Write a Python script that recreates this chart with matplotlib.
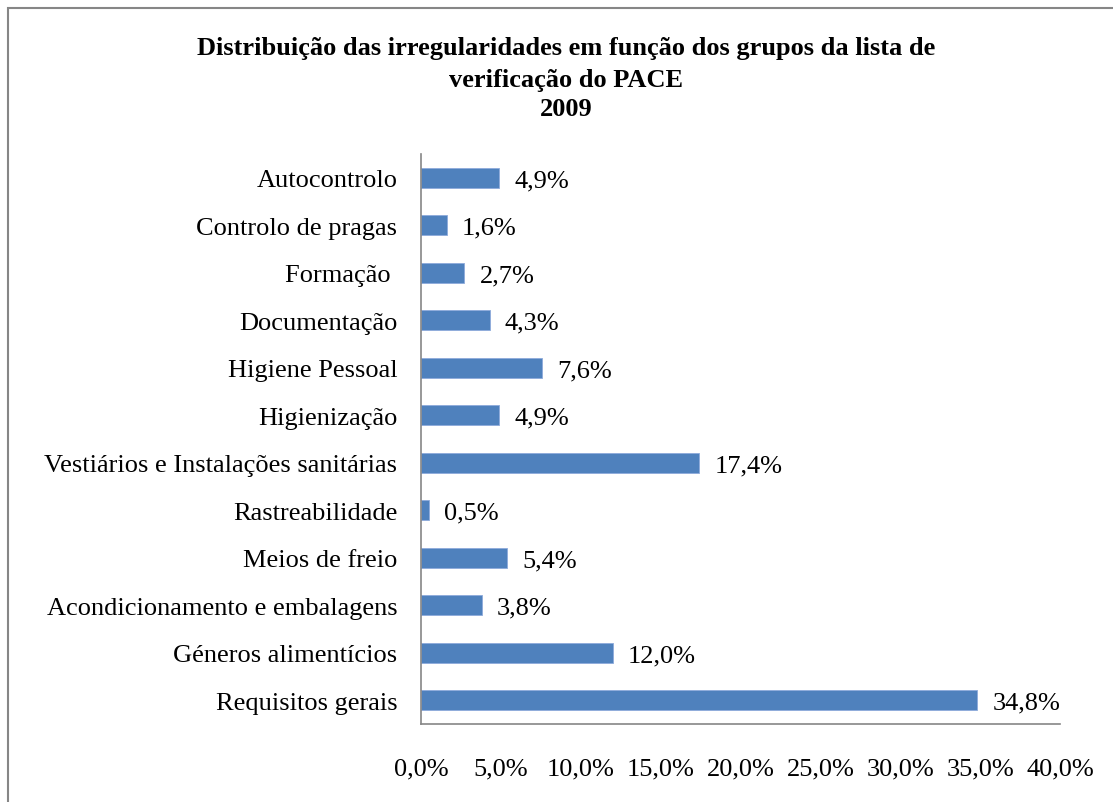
import matplotlib.pyplot as plt
from matplotlib.patches import Rectangle
from matplotlib.ticker import FuncFormatter

plt.rcParams['font.family'] = ['Liberation Serif', 'DejaVu Serif']

# categories listed bottom to top
categories = ['Requisitos gerais', 'Géneros alimentícios', 'Acondicionamento e embalagens',
              'Meios de freio', 'Rastreabilidade', 'Vestiários e Instalações sanitárias',
              'Higienização', 'Higiene Pessoal', 'Documentação', 'Formação ',
              'Controlo de pragas', 'Autocontrolo']
values = [34.8, 12.0, 3.8, 5.4, 0.5, 17.4, 4.9, 7.6, 4.3, 2.7, 1.6, 4.9]
xticks = [0, 5, 10, 15, 20, 25, 30, 35, 40]

W, H = 1113, 803
FS = 19
fig = plt.figure(figsize=(W / 100, H / 100), dpi=100)
ax = fig.add_axes([421 / W, 1 - 725 / H, (1060 - 421) / W, (725 - 155) / H])

pos = range(len(categories))
ax.barh(pos, values, height=0.42, color='#4F81BD', edgecolor='#8EAADB', linewidth=0.6)
ax.set_yticks(list(pos))
ax.set_yticklabels(categories, fontsize=FS)
ax.set_ylim(-0.5, len(categories) - 0.5)
ax.set_xlim(0, 40)
ax.set_xticks(xticks)
ax.xaxis.set_major_formatter(FuncFormatter(lambda v, p: f'{v:.1f}%'.replace('.', ',')))
ax.tick_params(axis='x', length=0, labelsize=FS, pad=24)
ax.tick_params(axis='y', length=0, pad=17)

for s in ['top', 'right']:
    ax.spines[s].set_visible(False)
for s in ['left', 'bottom']:
    ax.spines[s].set_color('#868686')
    ax.spines[s].set_linewidth(1.2)

for i, v in enumerate(values):
    ax.annotate(f'{v:.1f}%'.replace('.', ','), (v, i), xytext=(11, 0),
                textcoords='offset points', va='center_baseline', ha='left', fontsize=FS)

fig.text(566 / W, 1 - 49 / H, 'Distribuição das irregularidades em função dos grupos da lista de',
         ha='center', va='center', fontsize=FS, fontweight='bold')
fig.text(566 / W, 1 - 81 / H, 'verificação do PACE',
         ha='center', va='center', fontsize=FS, fontweight='bold')
fig.text(566 / W, 1 - 109 / H, '2009',
         ha='center', va='center', fontsize=FS, fontweight='bold')

fig.patches.append(Rectangle((8 / W, -0.1), 1.2, 1 - 9 / H + 0.1, transform=fig.transFigure,
                             fill=False, edgecolor='#868686', linewidth=1.5))

fig.savefig('out.png', dpi=100)
